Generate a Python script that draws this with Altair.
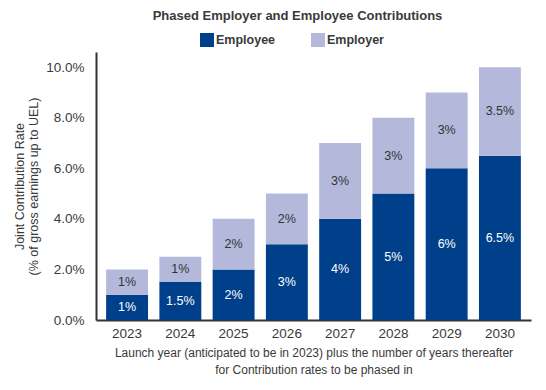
import altair as alt
import pandas as pd

years = ["2023", "2024", "2025", "2026", "2027", "2028", "2029", "2030"]
employee = [1, 1.5, 2, 3, 4, 5, 6, 6.5]
employer = [1, 1, 2, 2, 3, 3, 3, 3.5]
employee_labels = ["1%", "1.5%", "2%", "3%", "4%", "5%", "6%", "6.5%"]
employer_labels = ["1%", "1%", "2%", "2%", "3%", "3%", "3%", "3.5%"]
y_ticks = [0, 2, 4, 6, 8, 10]

rows = []
for i, yr in enumerate(years):
    rows.append(dict(year=yr, type="Employee", lo=0, hi=employee[i],
                     mid=employee[i] / 2, label=employee_labels[i]))
    rows.append(dict(year=yr, type="Employer", lo=employee[i],
                     hi=employee[i] + employer[i],
                     mid=employee[i] + employer[i] / 2, label=employer_labels[i]))
df = pd.DataFrame(rows)

FONT = "Liberation Sans"
TXT = "#3a3a3a"

color = alt.Color("type:N", scale=alt.Scale(domain=["Employee", "Employer"],
                                            range=["#00408A", "#B4B9DC"]),
                  legend=alt.Legend(title=None, orient="none", direction="horizontal",
                                    legendX=104, legendY=-19, symbolType="square",
                                    symbolSize=196, symbolStrokeWidth=0,
                                    labelFont=FONT, labelFontSize=12.5,
                                    labelFontWeight="bold", labelColor=TXT,
                                    labelOffset=2, columnPadding=35))

xscale = alt.Scale(paddingInner=0.213, paddingOuter=0.19)

x = alt.X("year:N", sort=years, scale=xscale,
          axis=alt.Axis(title=["Launch year (anticipated to be in 2023) plus the number of years thereafter",
                               "for Contribution rates to be phased in"],
                        labelAngle=0, labelFont=FONT, labelFontSize=13.5, labelColor=TXT,
                        labelPadding=6, ticks=False, domainColor="#333333",
                        domainWidth=2, titleFont=FONT, titleFontSize=12,
                        titleLineHeight=17, titleFontWeight="normal", titleColor=TXT,
                        titlePadding=8))

y = alt.Y("lo:Q", scale=alt.Scale(domain=[0, 10.6], nice=False),
          axis=alt.Axis(values=y_ticks, format=".1f", labelExpr="datum.label + '%'",
                        title=["Joint Contribution Rate", "(% of gross earnings up to UEL)"],
                        labelFont=FONT, labelFontSize=13.5, labelColor=TXT, labelPadding=12,
                        ticks=False, grid=False, domainColor="#333333", domainWidth=2,
                        titleFont=FONT, titleFontSize=12.5, titleFontWeight="normal",
                        titleColor=TXT, titlePadding=5))

bars = alt.Chart(df).mark_bar().encode(x=x, y=y, y2="hi:Q", color=color)

text = alt.Chart(df).mark_text(font=FONT, fontSize=12.5).encode(
    x=alt.X("year:N", sort=years, scale=xscale),
    y=alt.Y("mid:Q"),
    text="label:N",
    color=alt.Color("type:N", scale=alt.Scale(domain=["Employee", "Employer"],
                                              range=["#ffffff", "#333333"]), legend=None),
)

chart = alt.layer(bars, text).resolve_scale(color="independent").properties(
    width=435, height=268,
    autosize=alt.AutoSizeParams(type="none"),
    padding={"left": 88, "top": 44, "right": 7, "bottom": 62},
    title=alt.TitleParams("Phased Employer and Employee Contributions", font=FONT,
                          fontSize=13, fontWeight="bold", color=TXT, anchor="middle",
                          frame="group", offset=10, dx=-16),
).configure_view(stroke=None)

chart.save("out.html", embed_options={"renderer": "svg", "actions": False})
